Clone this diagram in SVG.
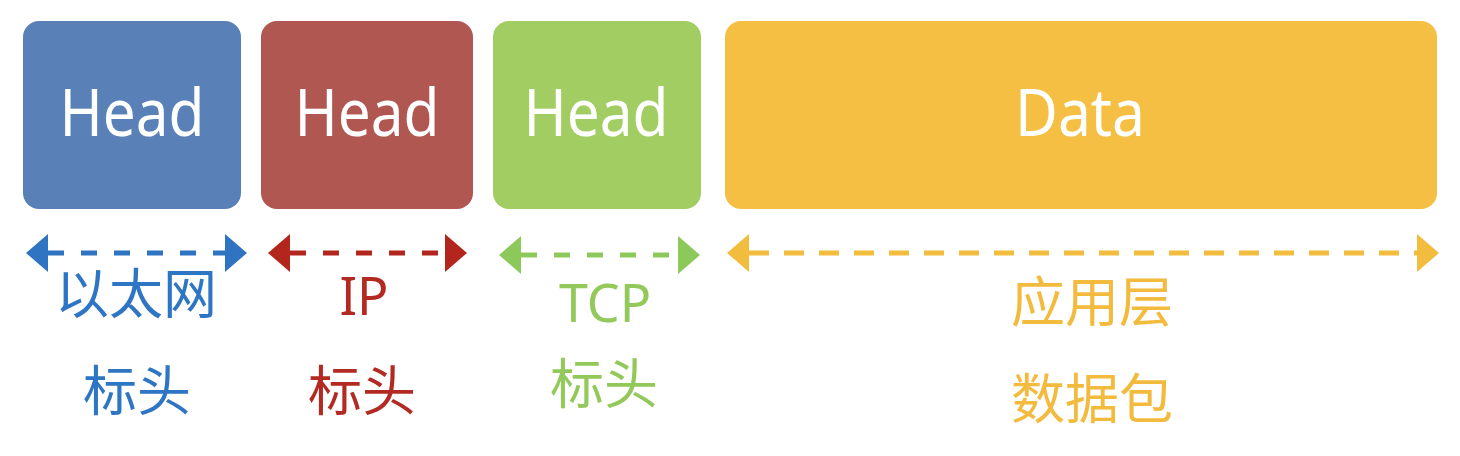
<svg xmlns="http://www.w3.org/2000/svg" width="1460" height="456" viewBox="0 0 1460 456">
<style>
.box{stroke:none}
.head{font-family:"Noto Sans","Open Sans",sans-serif;font-size:66px;fill:#ffffff;text-anchor:middle}
.lbl{font-family:"Noto Sans","Noto Sans CJK SC",sans-serif;font-size:52px;text-anchor:middle}
.cjk{font-family:"Noto Sans CJK SC",sans-serif;font-size:54px;text-anchor:middle}
.ln{fill:none;stroke-width:5}
</style>
<defs>
<marker id="mb" markerUnits="userSpaceOnUse" markerWidth="24" markerHeight="40" refX="0" refY="19" orient="auto-start-reverse"><path d="M0,0 L22,19 L0,38 z" fill="#2F74C2"/></marker>
<marker id="mr" markerUnits="userSpaceOnUse" markerWidth="24" markerHeight="40" refX="0" refY="19" orient="auto-start-reverse"><path d="M0,0 L22,19 L0,38 z" fill="#B3261E"/></marker>
<marker id="mg" markerUnits="userSpaceOnUse" markerWidth="24" markerHeight="40" refX="0" refY="19" orient="auto-start-reverse"><path d="M0,0 L22,19 L0,38 z" fill="#8DC95A"/></marker>
<marker id="my" markerUnits="userSpaceOnUse" markerWidth="24" markerHeight="40" refX="0" refY="19" orient="auto-start-reverse"><path d="M0,0 L22,19 L0,38 z" fill="#F2BC3E"/></marker>
</defs>
<rect width="1460" height="456" fill="#ffffff"/>
<g id="eth-head">
<rect class="box" x="23" y="21" width="218" height="188" rx="16" fill="#5A80B8"/>
<text class="head" x="132" y="136" textLength="145" lengthAdjust="spacingAndGlyphs">Head</text>
</g>
<g id="ip-head">
<rect class="box" x="261" y="21" width="212" height="188" rx="16" fill="#B05752"/>
<text class="head" x="367" y="136" textLength="145" lengthAdjust="spacingAndGlyphs">Head</text>
</g>
<g id="tcp-head">
<rect class="box" x="493" y="21" width="208" height="188" rx="16" fill="#A2CD62"/>
<text class="head" x="596" y="136" textLength="145" lengthAdjust="spacingAndGlyphs">Head</text>
</g>
<g id="data">
<rect class="box" x="725" y="21" width="712" height="188" rx="16" fill="#F4BF42"/>
<text class="head" x="1080" y="136" textLength="130" lengthAdjust="spacingAndGlyphs">Data</text>
</g>
<g id="connectors">
<line class="ln" x1="48" y1="253" x2="225" y2="253" stroke="#2F74C2" stroke-dasharray="16 17" marker-start="url(#mb)" marker-end="url(#mb)"/>
<line class="ln" x1="290" y1="253" x2="445" y2="253" stroke="#B3261E" stroke-dasharray="16 17" marker-start="url(#mr)" marker-end="url(#mr)"/>
<line class="ln" x1="521" y1="255" x2="678" y2="255" stroke="#8DC95A" stroke-dasharray="16 17" marker-start="url(#mg)" marker-end="url(#mg)"/>
<line class="ln" x1="749" y1="253" x2="1417" y2="253" stroke="#F2BC3E" stroke-dasharray="20 15" marker-start="url(#my)" marker-end="url(#my)"/>
</g>
<g id="eth-label" fill="#2E75C4">
<text class="cjk" x="136" y="314">以太网</text>
<text class="cjk" x="137" y="411">标头</text>
</g>
<g id="ip-label" fill="#B22A22">
<text class="lbl" x="364" y="315">IP</text>
<text class="cjk" x="362" y="411">标头</text>
</g>
<g id="tcp-label" fill="#92C95A">
<text class="lbl" x="605" y="322">TCP</text>
<text class="cjk" x="604" y="404">标头</text>
</g>
<g id="data-label" fill="#F3BB3D">
<text class="cjk" x="1092" y="322">应用层</text>
<text class="cjk" x="1092" y="419">数据包</text>
</g>
</svg>
